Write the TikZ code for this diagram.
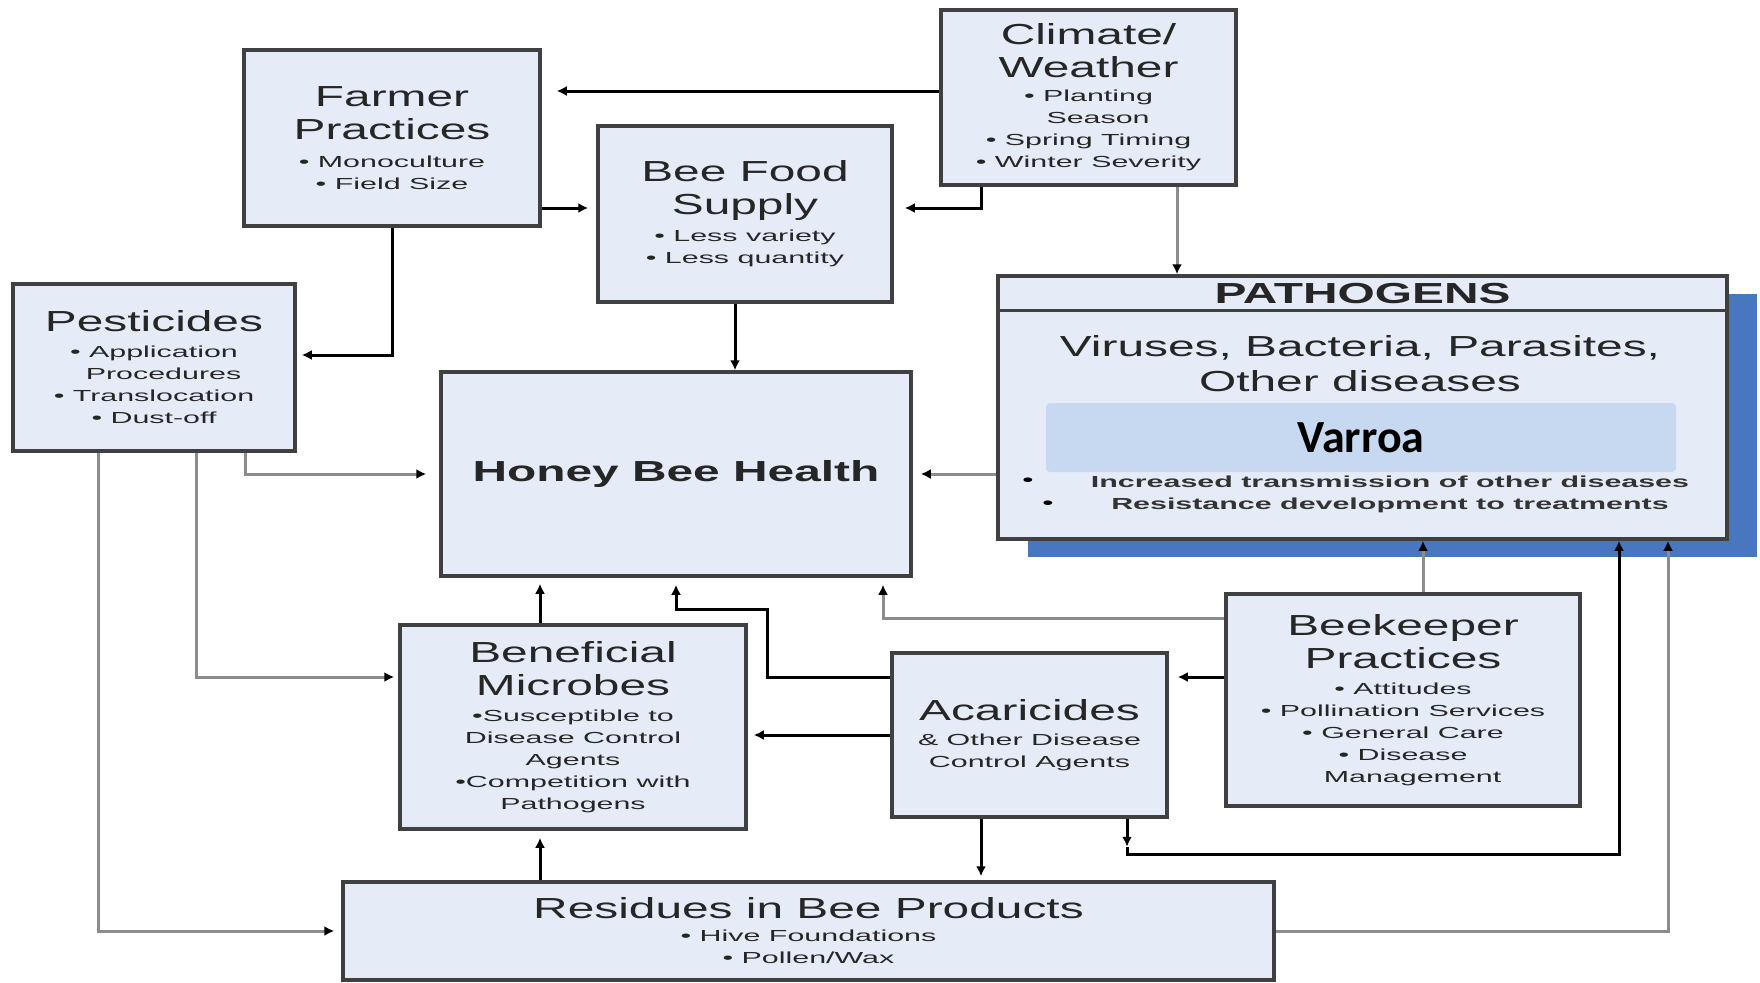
\documentclass[tikz,border=0pt]{standalone}
\usepackage{fontspec}
\setmainfont{Liberation Sans}
\newfontfamily\headfont[FakeStretch=1.65]{Liberation Sans}
\newfontfamily\itemfont[FakeStretch=1.9]{Liberation Sans}
\newfontfamily\varroafont{Carlito}
\usepackage{tikz}
\usetikzlibrary{arrows.meta}
\usetikzlibrary{shadows}
\setlength{\parindent}{0pt}

\definecolor{boxfill}{RGB}{230,236,247}
\definecolor{boxline}{RGB}{64,64,64}
\definecolor{linegrey}{RGB}{140,140,140}
\definecolor{shadowblue}{RGB}{72,119,192}
\definecolor{varroablue}{RGB}{198,217,240}

\newcommand{\headtext}{\headfont\fontsize{29}{33}\selectfont}
\newcommand{\itemtext}{\itemfont\fontsize{16}{22}\selectfont}

\tikzset{
  box/.style={draw=boxline, line width=3.5pt, fill=boxfill, inner sep=0pt, align=flush center, text=black!85},
  darkline/.style={draw=black, line width=3pt, -{Latex[length=10pt,width=10pt]}},
  greyline/.style={draw=linegrey, line width=3pt, -{Latex[length=10pt,width=10pt,color=black]}},
}

\begin{document}
\begin{tikzpicture}[x=1pt,y=-1pt]
    \useasboundingbox (0,0) rectangle (1760,982);

    \node[box, minimum width=296pt, minimum height=176pt, text width=286pt] (farmer) at (392,138)
        {\headtext Farmer\par Practices\par\vspace{6pt}\itemtext • Monoculture\par • Field Size\par};
    \node[box, minimum width=294pt, minimum height=176pt, text width=284pt] (food) at (745,214)
        {\headtext Bee Food\par Supply\par\vspace{5pt}\itemtext • Less variety\par • Less quantity\par};
    \node[box, minimum width=282pt, minimum height=167pt, text width=272pt] (pest) at (154,367.5)
        {\headtext Pesticides\par\vspace{4pt}\itemtext • Application\par \hphantom{• }Procedures\par • Translocation\par • Dust-off\par};
    \node[box, minimum width=295pt, minimum height=175pt, text width=285pt] (climate) at (1088.5,97.5)
        {\headtext Climate/\par Weather\par\vspace{2pt}\itemtext • Planting\par \hphantom{• }Season\par • Spring Timing\par • Winter Severity\par};
    \node[box, minimum width=470pt, minimum height=204pt, text width=460pt] (hbh) at (676,474)
        {\headtext\bfseries Honey Bee Health\par};
    \node[box, minimum width=729pt, minimum height=263pt,
          general shadow={fill=shadowblue, shadow xshift=30pt, shadow yshift=-18pt}] (path) at (1362.5,407.5) {};
    \node[box, minimum width=346pt, minimum height=204pt, text width=336pt] (micro) at (573,727)
        {\headtext Beneficial\par Microbes\par\vspace{4pt}\itemtext •Susceptible to\par Disease Control\par Agents\par •Competition with\par Pathogens\par};
    \node[box, minimum width=275pt, minimum height=164pt, text width=265pt] (acar) at (1029.5,735)
        {\headtext Acaricides\par\vspace{3pt}\itemtext \& Other Disease\par Control Agents\par};
    \node[box, minimum width=354pt, minimum height=212pt, text width=344pt] (keeper) at (1403,700)
        {\headtext Beekeeper\par Practices\par\vspace{4pt}\itemtext • Attitudes\par • Pollination Services\par • General Care\par • Disease\par \hphantom{• }Management\par};
    \node[box, minimum width=931pt, minimum height=98pt, text width=921pt] (resid) at (808.5,931)
        {\headtext Residues in Bee Products\par\vspace{1pt}\itemtext • Hive Foundations\par • Pollen/Wax\par};

    \draw[draw=boxline, line width=3.5pt] ([yshift=-36pt]path.north west) -- ([yshift=-36pt]path.north east);
    \node[font=\headtext\bfseries, text=black!85] (pathtitle) at (1362.5,294) {PATHOGENS};
    \node[font=\headtext, align=center, text=black!85] (pathtext) at (1360,364) {Viruses, Bacteria, Parasites,\\[2pt]Other diseases};
    \node[fill=varroablue, rounded corners=4pt, minimum width=630pt, minimum height=69pt,
          font=\varroafont\bfseries\fontsize{46}{52}\selectfont] (varroa) at (1361,437.5) {Varroa};
    \node[font=\itemtext\bfseries, text=black!80] (spread) at (1390,482) {Increased transmission of other diseases};
    \node[font=\itemtext\bfseries, text=black!80] (resist) at (1390,505) {Resistance development to treatments};
    \node[font=\itemtext\bfseries] (dota) at (1028,482) {•};
    \node[font=\itemtext\bfseries] (dotb) at (1048,505) {•};

    \draw[darkline] ([yshift=6.5pt]climate.west) -- ([xshift=15pt,yshift=47pt]farmer.east);
    \draw[darkline] ([xshift=-107.5pt]climate.south) |- ([xshift=11pt,yshift=6pt]food.east);
    \draw[darkline] ([yshift=-70pt]farmer.east) -- ([xshift=-8pt,yshift=6pt]food.west);
    \draw[darkline] (farmer.south) |- ([xshift=5pt,yshift=12.5pt]pest.east);
    \draw[darkline] ([xshift=-10pt]food.south) -- ([xshift=-10pt]food.south |- hbh.north);
    \draw[greyline] ([xshift=91pt]pest.south) |- ([xshift=-13pt]hbh.west);
    \draw[greyline] ([xshift=42pt]pest.south) |- ([xshift=-4pt,yshift=50pt]micro.west);
    \draw[greyline] ([xshift=-56pt]pest.south) |- ([xshift=-7pt]resid.west);
    \draw[greyline] ([yshift=-66.5pt]path.west) -- ([xshift=8pt]hbh.east);
    \draw[greyline] ([xshift=88.5pt]climate.south) -- ([xshift=88.5pt]climate.south |- path.north);
    \draw[darkline] ([xshift=-33pt]micro.north) -- ([xshift=-33pt,yshift=-6pt]micro.north |- hbh.south);
    \draw[darkline] ([yshift=58pt]acar.west) -- ++(-123,0) -- ++(0,-68) -| ([yshift=-7pt]hbh.south);
    \draw[greyline] ([yshift=82pt]keeper.west) -| ([xshift=207pt,yshift=-7pt]hbh.south);
    \draw[darkline] ([yshift=23pt]keeper.west) -- ([xshift=9pt,yshift=58pt]acar.east);
    \draw[greyline] ([xshift=20pt]keeper.north) -- ([xshift=20pt]keeper.north |- path.south);
    \draw[darkline] ([xshift=-48.5pt]acar.south) -- ([xshift=-48.5pt,yshift=4pt]acar.south |- resid.north);
    \coordinate (acarbend) at ([xshift=97.5pt,yshift=-36pt]acar.south);
    \draw[darkline] ([xshift=97.5pt]acar.south) -- ([yshift=8pt]acarbend);
    \draw[darkline] ([yshift=8pt]acarbend) -- (acarbend) -| ([xshift=256.5pt]path.south);
    \draw[greyline] (resid.east) -| ([xshift=305.5pt]path.south);
    \draw[darkline] ([xshift=-268.5pt]resid.north) -- ([xshift=-268.5pt,yshift=-7pt]resid.north |- micro.south);
    \draw[darkline] (acar.west) -- ([xshift=6pt,yshift=-8pt]micro.east);
\end{tikzpicture}
\end{document}
